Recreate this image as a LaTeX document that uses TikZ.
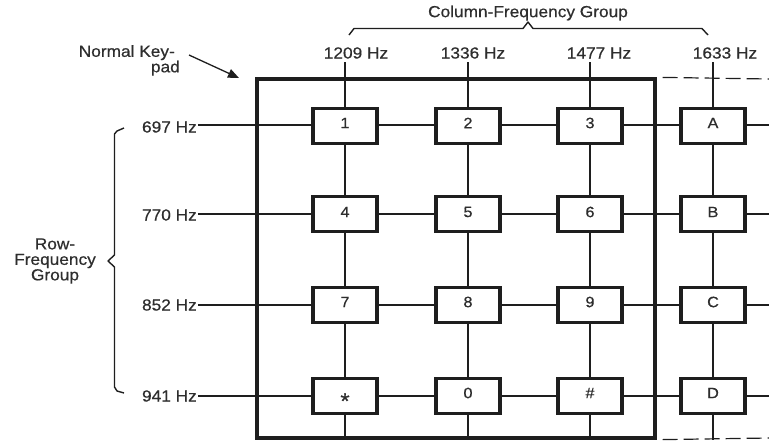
\documentclass[tikz,border=0pt]{standalone}
\usepackage{fontspec}
\setmainfont{Liberation Sans}[FakeStretch=1.08,FakeBold=0.6]
\usetikzlibrary{arrows.meta}
\definecolor{ink}{HTML}{1E1E1E}
\definecolor{txt}{HTML}{2E2E2E}
\begin{document}
\begin{tikzpicture}[x=1pt,y=-1pt,
  lab/.style={text=txt,font=\fontsize{16}{15.5}\selectfont,inner sep=1pt},
  keylab/.style={text=txt,font=\fontsize{15}{16}\selectfont},
  wire/.style={draw=ink,line width=1.2pt},
  keybox/.style={draw=ink,fill=white,line width=3.2pt,minimum width=64pt,minimum height=35pt,inner sep=0pt},
  padbox/.style={draw=ink,line width=3.2pt,minimum width=398pt,minimum height=359pt,inner sep=0pt},
  dashline/.style={draw=ink,line width=1.2pt,dash pattern=on 15pt off 6pt},
  bracket/.style={draw=ink,line width=1.4pt,line join=round}]
\useasboundingbox (0,0) rectangle (769,440);

% column labels
\node[lab] (h1209) at (356,53) {1209 Hz};
\node[lab] (h1336) at (473,53) {1336 Hz};
\node[lab] (h1477) at (599,53) {1477 Hz};
\node[lab] (h1633) at (725,53) {1633 Hz};
\node[lab] (cfg) at (528,13) {Column-Frequency Group};

% row labels
\node[lab,anchor=east] (r697) at (198,127) {697 Hz};
\node[lab,anchor=east] (r770) at (198,215) {770 Hz};
\node[lab,anchor=east] (r852) at (198,305) {852 Hz};
\node[lab,anchor=east] (r941) at (198,396) {941 Hz};
\node[lab,align=center] (rfg) at (55,261) {Row-\\Frequency\\Group};

\node[lab,align=right,anchor=north east] (nkp) at (181,44) {Normal Key-\hspace*{5pt}\\pad};

% coordinates for wire ends
\coordinate (c1t) at (345,62); \coordinate (c1b) at (345,440);
\coordinate (c2t) at (468,62); \coordinate (c2b) at (468,440);
\coordinate (c3t) at (590,62); \coordinate (c3b) at (590,440);
\coordinate (c4t) at (713,62); \coordinate (c4b) at (713,440);
\coordinate (e1) at (769,125);
\coordinate (e2) at (769,214);
\coordinate (e3) at (769,305);
\coordinate (e4) at (769,396);

% wires
\draw[wire] (c1t) -- (c1b);
\draw[wire] (c2t) -- (c2b);
\draw[wire] (c3t) -- (c3b);
\draw[wire] (c4t) -- (c4b);
\draw[wire] (r697.east |- e1) -- (e1);
\draw[wire] (r770.east |- e2) -- (e2);
\draw[wire] (r852.east |- e3) -- (e3);
\draw[wire] (r941.east |- e4) -- (e4);

% keypad frame
\node[padbox] (kpad) at (456,258.5) {};
\coordinate (dt) at (769,79);
\coordinate (db) at (769,438);
\draw[dashline] ([xshift=6pt]kpad.north east) -- (dt);
\draw[dashline] ([xshift=6pt]kpad.south east) -- (db);

% keys
\node[keybox] (k1) at (345,126) {}; \node[keylab] at (345,123) {1};
\node[keybox] (k2) at (468,126) {}; \node[keylab] at (468,123) {2};
\node[keybox] (k3) at (590,126) {}; \node[keylab] at (590,123) {3};
\node[keybox] (kA) at (713,126) {}; \node[keylab] at (713,123) {A};
\node[keybox] (k4) at (345,214) {}; \node[keylab] at (345,212) {4};
\node[keybox] (k5) at (468,214) {}; \node[keylab] at (468,212) {5};
\node[keybox] (k6) at (590,214) {}; \node[keylab] at (590,212) {6};
\node[keybox] (kB) at (713,214) {}; \node[keylab] at (713,212) {B};
\node[keybox] (k7) at (345,305) {}; \node[keylab] at (345,302) {7};
\node[keybox] (k8) at (468,305) {}; \node[keylab] at (468,302) {8};
\node[keybox] (k9) at (590,305) {}; \node[keylab] at (590,302) {9};
\node[keybox] (kC) at (713,305) {}; \node[keylab] at (713,302) {C};
\node[keybox] (kst) at (345,396) {}; \node[keylab,font=\fontsize{22}{22}\selectfont] at (345,401) {*};
\node[keybox] (k0) at (468,396) {}; \node[keylab] at (468,393) {0};
\node[keybox] (khash) at (590,396) {}; \node[keylab] at (590,393) {\#};
\node[keybox] (kD) at (713,396) {}; \node[keylab] at (713,393) {D};

% arrow
\coordinate (arrS) at (189,55);
\coordinate (arrE) at (239,78);
\draw[draw=ink,line width=1.3pt,-{Triangle[length=11pt,width=9pt]}] (arrS) -- (arrE);

% column brace
\draw[bracket] (349,35) -- (354,28.5) -- (523,28.5) -- (528,22) -- (533,28.5) -- (702,28.5) -- (708,35);
% row brace
\draw[bracket] (124,128) -- (117,131) -- (114.5,134) -- (114.5,255) -- (108,261) -- (114.5,267) -- (114.5,387) -- (117,391) -- (124,393);
\end{tikzpicture}
\end{document}
